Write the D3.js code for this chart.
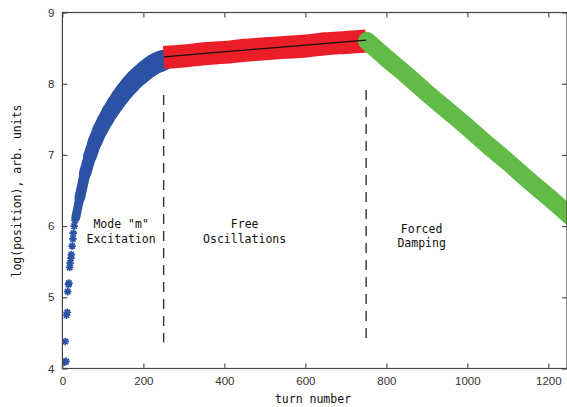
<!DOCTYPE html>
<html>
<head>
<meta charset="utf-8">
<script src="https://cdn.jsdelivr.net/npm/d3@7"></script>
<style>
  body { margin: 0; background: #fff; }
  .ax text { font-family: "Liberation Sans", Arial, sans-serif; font-size: 11.5px; fill: #333; }
  .ax path { display: none; }
  .ax line { stroke: #444; stroke-width: 1.1; }
  .mono { font-family: "DejaVu Sans Mono", monospace; font-size: 11.5px; fill: #111; }
</style>
</head>
<body>
<svg id="chart" width="567" height="407"></svg>
<script>
// early, isolated points of the excitation phase
var blueSparseTurns = [5, 9, 7, 10, 12, 13, 15, 16, 18, 19, 21, 22, 24, 26, 27, 29, 31];
var blueSparseVals  = [4.09, 4.10, 4.38, 4.75, 4.79, 5.08, 5.18, 5.20, 5.42, 5.48, 5.55, 5.60, 5.72, 5.82, 5.90, 6.00, 6.08];

// dense bands (centre of the point cloud)
var blueTurns = [33, 43, 56, 68, 80, 93, 105, 117, 130, 142, 154, 166, 179, 191, 203, 215, 228, 240, 250];
var blueVals  = [6.12, 6.40, 6.74, 6.98, 7.18, 7.35, 7.48, 7.60, 7.71, 7.81, 7.90, 7.98, 8.06, 8.12, 8.18, 8.23, 8.28, 8.31, 8.33];

var redTurns = [250, 300, 350, 400, 450, 500, 550, 600, 650, 700, 750];
var redVals  = [8.37, 8.39, 8.42, 8.44, 8.47, 8.49, 8.51, 8.53, 8.56, 8.58, 8.60];

var fitTurns = [250, 750];
var fitVals  = [8.378, 8.612];

var greenTurns = [752, 800, 850, 900, 950, 1000, 1050, 1100, 1150, 1200, 1260];
var greenVals  = [8.60, 8.36, 8.12, 7.87, 7.63, 7.39, 7.14, 6.90, 6.65, 6.41, 6.11];

var xTicks = [0, 200, 400, 600, 800, 1000, 1200];
var yTicks = [4, 5, 6, 7, 8, 9];

var phaseTurns = [250, 750];
var phaseTop = [7.84, 7.91];
var phaseBottom = [4.37, 4.42];

var phaseLabels = [["Mode \"m\"", "Excitation"], ["Free", "Oscillations"], ["Forced", "Damping"]];
var phaseLabelTurns = [145, 450, 887];

var svg = d3.select("#chart");
var L = 62.4, R = 567, T = 12.5, B = 368.5;

var x = d3.scaleLinear().domain([0, 1246]).range([L, R]);
var y = d3.scaleLinear().domain([4, 9]).range([B, T]);

svg.append("defs").append("clipPath").attr("id", "plotclip")
  .append("rect").attr("x", L).attr("y", T).attr("width", R - L).attr("height", B - T);

var plot = svg.append("g").attr("clip-path", "url(#plotclip)");

function pts(tt, vv) { return tt.map(function (t, i) { return [t, vv[i]]; }); }
var line = d3.line().x(function (d) { return x(d[0]); }).y(function (d) { return y(d[1]); })
  .curve(d3.curveMonotoneX);

// asterisk marker
function star(r) {
  var p = "";
  for (var k = 0; k < 4; k++) {
    var a = k * Math.PI / 4;
    var dx = r * Math.cos(a), dy = r * Math.sin(a);
    p += "M" + (-dx) + "," + (-dy) + "L" + dx + "," + dy;
  }
  return p;
}

var blue = "#2c52a6", red = "#ea1d28", green = "#62bb46";

plot.selectAll(".bs").data(pts(blueSparseTurns, blueSparseVals)).enter().append("path")
  .attr("transform", function (d) { return "translate(" + x(d[0]) + "," + y(d[1]) + ")"; })
  .attr("d", star(3.8)).attr("stroke", blue).attr("stroke-width", 1.7).attr("fill", "none");

// blue cloud gets wider as it climbs
var blueW = d3.scaleLinear().domain([6.1, 7.3, 8.33]).range([8, 15, 21]);
var bp = pts(blueTurns, blueVals);
plot.selectAll(".bseg").data(d3.pairs(bp)).enter().append("path")
  .attr("d", function (d) { return line(d); })
  .attr("fill", "none").attr("stroke", blue)
  .attr("stroke-width", function (d) { return blueW((d[0][1] + d[1][1]) / 2); })
  .attr("stroke-linecap", "round");

plot.append("path").datum(pts(redTurns, redVals)).attr("d", line)
  .attr("fill", "none").attr("stroke", red).attr("stroke-width", 23)
  .attr("stroke-linecap", "butt");

plot.append("path").datum(pts(greenTurns, greenVals)).attr("d", line)
  .attr("fill", "none").attr("stroke", green).attr("stroke-width", 18)
  .attr("stroke-linecap", "round");

plot.append("path").datum(pts(fitTurns, fitVals)).attr("d", line)
  .attr("fill", "none").attr("stroke", "#111").attr("stroke-width", 1.2);

// phase separators
svg.selectAll(".sep").data(phaseTurns).enter().append("line")
  .attr("x1", function (d) { return x(d); }).attr("x2", function (d) { return x(d); })
  .attr("y1", function (d, i) { return y(phaseTop[i]); })
  .attr("y2", function (d, i) { return y(phaseBottom[i]); })
  .attr("stroke", "#333").attr("stroke-width", 1.4).attr("stroke-dasharray", "10,7");

var lineY = [[228, 243], [228, 243], [233, 247]];
phaseLabels.forEach(function (lines, i) {
  lines.forEach(function (s, j) {
    svg.append("text").attr("class", "mono").attr("text-anchor", "middle")
      .attr("x", x(phaseLabelTurns[i])).attr("y", lineY[i][j]).text(s);
  });
});

// axes
svg.append("g").attr("class", "ax").attr("transform", "translate(0," + B + ")")
  .call(d3.axisBottom(x).tickValues(xTicks).tickSize(-5).tickPadding(8).tickFormat(d3.format("d")));
svg.append("g").attr("class", "ax").attr("transform", "translate(0," + T + ")")
  .call(d3.axisTop(x).tickValues(xTicks).tickSize(-5).tickFormat(""));
svg.append("g").attr("class", "ax").attr("transform", "translate(" + L + ",0)")
  .call(d3.axisLeft(y).tickValues(yTicks).tickSize(-5).tickPadding(8).tickFormat(d3.format("d")));
svg.append("g").attr("class", "ax").attr("transform", "translate(" + R + ",0)")
  .call(d3.axisRight(y).tickValues(yTicks).tickSize(-5).tickFormat(""));

svg.append("rect").attr("x", L).attr("y", T).attr("width", R - L).attr("height", B - T)
  .attr("fill", "none").attr("stroke", "#444").attr("stroke-width", 1.2);

svg.append("text").attr("class", "mono").attr("text-anchor", "middle")
  .attr("x", 313).attr("y", 403).text("turn number");
svg.append("text").attr("class", "mono").attr("text-anchor", "middle")
  .attr("transform", "translate(21,191) rotate(-90)").text("log(position), arb. units");
</script>
</body>
</html>
